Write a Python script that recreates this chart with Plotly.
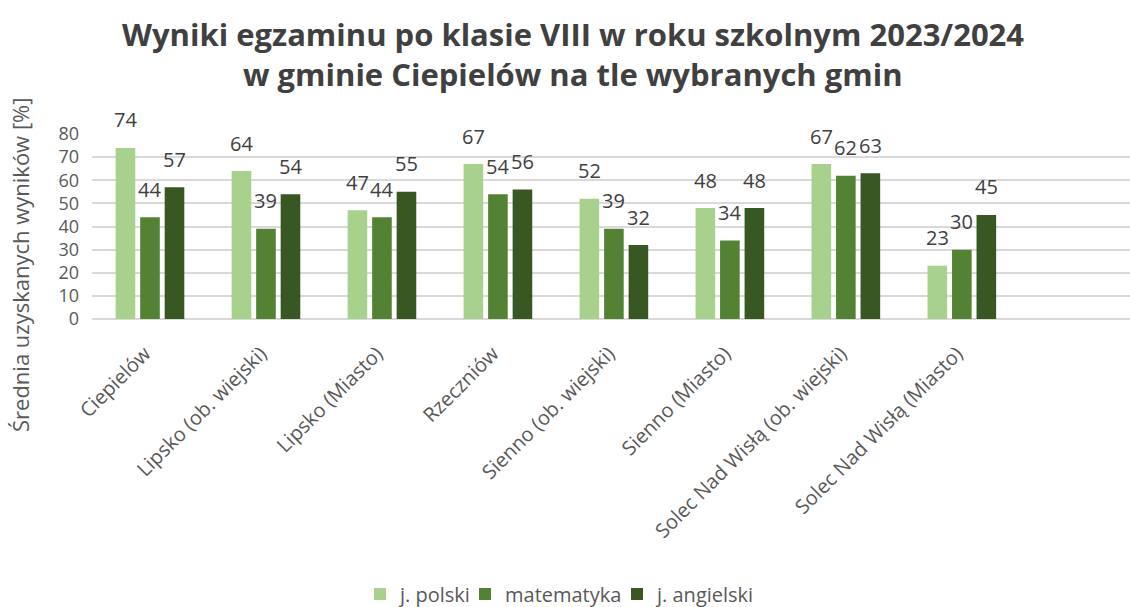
import plotly.graph_objects as go

categories = ["Ciepielów", "Lipsko (ob. wiejski)", "Lipsko (Miasto)", "Rzeczniów",
              "Sienno (ob. wiejski)", "Sienno (Miasto)", "Solec Nad Wisłą (ob. wiejski)",
              "Solec Nad Wisłą (Miasto)"]
polski = [74, 64, 47, 67, 52, 48, 67, 23]
matematyka = [44, 39, 44, 54, 39, 34, 62, 30]
angielski = [57, 54, 55, 56, 32, 48, 63, 45]
series_names = ["j. polski", "matematyka", "j. angielski"]
colors = ["#A9D18E", "#548235", "#385723"]

W, H = 1130, 607
ML, MR, MT, MB = 92, 0, 134, 288
XRANGE = [-0.5, 8.45]
YRANGE = [0, 80]
BARGAP = 0.366
BARGROUPGAP = 0.2
FONT = "Open Sans"
TXT = "#404040"
AX = "#595959"

plot_w = W - ML - MR
plot_h = H - MT - MB
def py(ypix):
    return (H - MB - ypix) / plot_h
def px(xpix):
    return (xpix - ML) / plot_w

legend_ids = ["legend", "legend2", "legend3"]
legend_left_px = [360, 465, 617]

fig = go.Figure()
for name, vals, col, lid in zip(series_names, [polski, matematyka, angielski], colors, legend_ids):
    fig.add_trace(go.Bar(name=name, x=categories, y=vals, marker=dict(color=col, line=dict(width=0)),
                         hoverinfo="x+y", legend=lid))

cat_px = plot_w / (XRANGE[1] - XRANGE[0])
slot_px = cat_px * (1 - BARGAP) / 3

annotations = []
for i, vals in enumerate([polski, matematyka, angielski]):
    for c, v in zip(categories, vals):
        annotations.append(dict(x=c, y=v, xref="x", yref="y", text=str(v), showarrow=False,
                                xshift=(i - 1) * slot_px, yshift=28, yanchor="middle",
                                font=dict(family=FONT, size=20, color=TXT)))

annotations.append(dict(text="Wyniki egzaminu po klasie VIII w roku szkolnym 2023/2024",
                        xref="paper", yref="paper", x=px(573), y=py(34), showarrow=False,
                        xanchor="center", yanchor="middle",
                        font=dict(family=FONT, size=31, color=TXT, weight="bold")))
annotations.append(dict(text="w gminie Ciepielów na tle wybranych gmin",
                        xref="paper", yref="paper", x=px(573), y=py(74), showarrow=False,
                        xanchor="center", yanchor="middle",
                        font=dict(family=FONT, size=31, color=TXT, weight="bold")))
annotations.append(dict(text="Średnia uzyskanych wyników [%]", textangle=-90,
                        xref="paper", yref="paper", x=px(20), y=py(265), showarrow=False,
                        xanchor="center", yanchor="middle",
                        font=dict(family=FONT, size=22, color=AX)))

legend_cfg = {}
for lid, lx in zip(legend_ids, legend_left_px):
    legend_cfg[lid] = dict(orientation="h", xref="container", x=lx / W, yref="paper", y=py(594),
                           xanchor="left", yanchor="middle", bgcolor="rgba(0,0,0,0)",
                           font=dict(family=FONT, size=20, color=AX), itemwidth=30)

fig.update_layout(
    width=W, height=H,
    margin=dict(l=ML, r=MR, t=MT, b=MB, autoexpand=False),
    paper_bgcolor="white", plot_bgcolor="white",
    barmode="group", bargap=BARGAP, bargroupgap=BARGROUPGAP,
    showlegend=True,
    annotations=annotations,
    xaxis=dict(range=XRANGE, tickangle=-45, showgrid=False, showline=False, zeroline=False,
               ticks="", ticklabelstandoff=18, ticklabelshift=-5,
               tickfont=dict(family=FONT, size=20, color=AX)),
    yaxis=dict(range=YRANGE, dtick=10, showgrid=True, gridcolor="#D9D9D9", gridwidth=1.5,
               zeroline=True, zerolinecolor="#D9D9D9", zerolinewidth=1.5, showline=False,
               ticks="", ticklabelstandoff=12,
               tickfont=dict(family=FONT, size=18, color=AX)),
    **legend_cfg,
)

fig.write_html("out.html", config={"displayModeBar": False},
               post_script="document.body.style.margin='0';document.body.style.overflow='hidden';")
